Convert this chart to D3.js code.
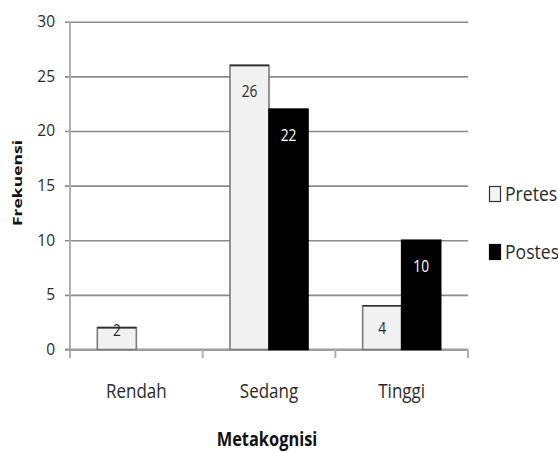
<!DOCTYPE html>
<html>
<head>
<meta charset="utf-8">
<script src="https://cdn.jsdelivr.net/npm/d3@7"></script>
<style>
  html, body { margin: 0; padding: 0; background: #fff; }
  svg { display: block; }
  text { font-family: "Open Sans", "DejaVu Sans", sans-serif; }
</style>
</head>
<body>
<svg id="chart" width="558" height="453"></svg>
<script>
// Frekuensi metakognisi siswa, pretes vs postes
const categories = ["Rendah", "Sedang", "Tinggi"];
const seriesNames = ["Pretes", "Postes"];
const pretes = [2, 26, 4];
const postes = [0, 22, 10];
const yTicks = [0, 5, 10, 15, 20, 25, 30];

const svg = d3.select("#chart");
const plot = { left: 70, right: 468, top: 21.7, bottom: 349.5 };

const y = d3.scaleLinear().domain([0, 30]).range([plot.bottom, plot.top]);
const x0 = d3.scaleBand().domain(categories).range([plot.left, plot.right]).padding(0);
const x1 = d3.scaleBand().domain(seriesNames).range([0, x0.bandwidth()])
  .paddingInner(0).paddingOuter(0.7);

const rows = categories.map((c, i) => ({
  cat: c,
  vals: [
    { s: "Pretes", v: pretes[i] },
    { s: "Postes", v: postes[i] }
  ]
}));

// horizontal gridlines with small outer ticks
const yAxis = d3.axisLeft(y).tickValues(yTicks)
  .tickSize(-(plot.right - plot.left)).tickSizeOuter(0).tickPadding(15);
const gy = svg.append("g").attr("transform", `translate(${plot.left},0)`).call(yAxis);
gy.select(".domain").remove();
gy.selectAll(".tick line").attr("x1", -5).attr("stroke", "#8a8a8a").attr("stroke-width", 1.6);
gy.selectAll(".tick text")
  .attr("font-size", 15.5).attr("fill", "#2a2a2a")
  .style("font-family", "'Open Sans', sans-serif");

// vertical axis line
svg.append("line")
  .attr("x1", plot.left).attr("x2", plot.left)
  .attr("y1", plot.top).attr("y2", plot.bottom + 8.5)
  .attr("stroke", "#b0b0b0").attr("stroke-width", 2);

// category axis with ticks on the band boundaries
const bounds = categories.map(c => x0(c)).concat([plot.right]);
svg.append("line")
  .attr("x1", plot.left - 5).attr("x2", plot.right)
  .attr("y1", y(0)).attr("y2", y(0))
  .attr("stroke", "#9a9a9a").attr("stroke-width", 2);
svg.selectAll(".xtick").data(bounds.slice(1)).enter().append("line")
  .attr("class", "xtick")
  .attr("x1", d => d).attr("x2", d => d)
  .attr("y1", y(0)).attr("y2", y(0) + 8.5)
  .attr("stroke", "#b0b0b0").attr("stroke-width", 2);

// bars
const groups = svg.selectAll(".grp").data(rows).enter().append("g")
  .attr("class", "grp")
  .attr("transform", d => `translate(${x0(d.cat)},0)`);

const bars = groups.selectAll(".bar").data(d => d.vals.filter(e => e.v > 0)).enter();

bars.append("rect")
  .attr("x", d => x1(d.s))
  .attr("y", d => y(d.v))
  .attr("width", x1.bandwidth())
  .attr("height", d => y(0) - y(d.v))
  .attr("fill", d => d.s === "Pretes" ? "#f1f1f1" : "#000")
  .attr("stroke", d => d.s === "Pretes" ? "#7a7a7a" : "#000")
  .attr("stroke-width", 1.6);

// darker top edge on the light bars
bars.filter(d => d.s === "Pretes").append("line")
  .attr("x1", d => x1(d.s)).attr("x2", d => x1(d.s) + x1.bandwidth())
  .attr("y1", d => y(d.v)).attr("y2", d => y(d.v))
  .attr("stroke", "#2e2e2e").attr("stroke-width", 1.6);

// value labels near the inside end of each bar
bars.append("text")
  .attr("transform", d => {
    const top = y(d.v), h = y(0) - top;
    const by = h >= 40 ? top + Math.min(32, h - 16) : top + 8;
    return `translate(${x1(d.s) + x1.bandwidth() / 2},${by}) scale(0.86,1)`;
  })
  .attr("text-anchor", "middle")
  .attr("font-size", 16)
  .attr("fill", d => d.s === "Pretes" ? "#2a2a2a" : "#fff")
  .text(d => d.v);

// category labels
svg.selectAll(".cat").data(categories).enter().append("text")
  .attr("class", "cat")
  .attr("transform", d => `translate(${x0(d) + x0.bandwidth() / 2},398) scale(0.85,1)`)
  .attr("text-anchor", "middle")
  .attr("font-size", 20)
  .attr("fill", "#2a2a2a")
  .text(d => d);

// axis titles
svg.append("text")
  .attr("transform", `translate(267,446) scale(0.82,1)`)
  .attr("text-anchor", "middle")
  .attr("font-size", 20).attr("font-weight", "bold")
  .attr("fill", "#111")
  .text("Metakognisi");

svg.append("text")
  .attr("transform", `translate(22,183) rotate(-90) scale(1.4,1)`)
  .attr("text-anchor", "middle")
  .attr("font-size", 12.5).attr("font-weight", "bold")
  .attr("fill", "#111")
  .text("Frekuensi");

// legend
const legend = svg.selectAll(".leg").data(seriesNames).enter().append("g")
  .attr("class", "leg")
  .attr("transform", (d, i) => `translate(489,${186 + i * 58})`);
legend.append("rect")
  .attr("x", 0.5).attr("y", 0.5).attr("width", 11).attr("height", 15)
  .attr("fill", d => d === "Pretes" ? "#f4f4f4" : "#000")
  .attr("stroke", d => d === "Pretes" ? "#333" : "#000")
  .attr("stroke-width", 1.2);
legend.append("text")
  .attr("transform", "translate(16,14.5) scale(0.88,1)")
  .attr("font-size", 20)
  .attr("fill", "#2a2a2a")
  .text(d => d);
</script>
</body>
</html>
